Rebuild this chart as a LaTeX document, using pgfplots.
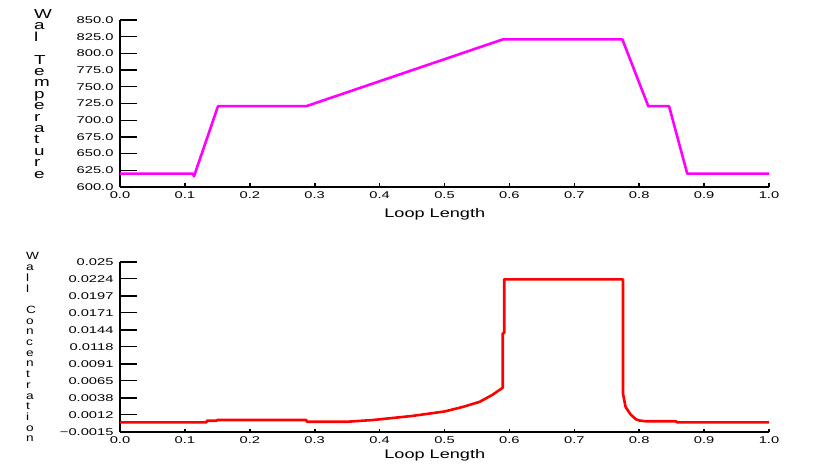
\documentclass[border=0pt]{standalone}
\usepackage{fontspec}
\setmainfont{Liberation Sans}
\newfontfamily\tickfont{Liberation Sans}[FakeStretch=1.5]
\newfontfamily\labfont{Liberation Sans}[FakeStretch=1.45]
\newfontfamily\labfontb{Liberation Sans}[FakeStretch=1.3]
\usepackage{pgfplots}
\pgfplotsset{compat=1.18}
\definecolor{mag}{RGB}{255,0,255}
\definecolor{rd}{RGB}{255,0,0}
\pgfplotsset{
  myaxis/.style={
    scale only axis, anchor=south west,
    width=649pt, xmin=0, xmax=1,
    axis x line*=bottom, axis y line*=left,
    x axis line style={line width=1.6pt, -},
    y axis line style={line width=2.6pt, -},
    tick align=inside,
    xtick={0,0.1,...,1.0},
    xticklabels={0.0,0.1,0.2,0.3,0.4,0.5,0.6,0.7,0.8,0.9,1.0},
    xtick style={/pgfplots/major tick length=3.5pt, line width=1.6pt, black},
    ytick style={/pgfplots/major tick length=17pt, line width=1.3pt, black},
    ticklabel style={font=\fontsize{9.8}{10}\selectfont\tickfont},
    xticklabel style={yshift=-1pt},
    yticklabel style={xshift=-3pt},
    scaled y ticks=false,
    xlabel={Loop Length},
    xlabel style={at={(axis description cs:0.485,0)}, anchor=center, font=\fontsize{12.5}{13}\selectfont\labfont},
    clip=false,
  }
}
\begin{document}
\begin{tikzpicture}
\path[use as bounding box] (0,0) rectangle (829pt,463pt);
\begin{axis}[myaxis, at={(120pt,276pt)}, height=167pt,
  ymin=600, ymax=850,
  ytick={600,625,650,675,700,725,750,775,800,825,850},
  yticklabels={600.0,625.0,650.0,675.0,700.0,725.0,750.0,775.0,800.0,825.0,850.0},
  xlabel style={yshift=-27pt}]
\addplot[mag, line width=2.6pt, line join=round] coordinates {
(0,620)(0.112,620)(0.114,616)(0.151,721)(0.287,721)(0.590,821)(0.774,821)(0.814,721)(0.846,721)(0.874,620)(1.0,620)};
\end{axis}
\begin{axis}[myaxis, at={(120pt,31pt)}, height=170pt,
  ymin=-0.0015, ymax=0.025,
  ytick={-0.0015,0.0012,0.0038,0.0065,0.0091,0.0118,0.0144,0.0171,0.0197,0.0224,0.025},
  yticklabels={−0.0015,0.0012,0.0038,0.0065,0.0091,0.0118,0.0144,0.0171,0.0197,0.0224,0.025},
  xlabel style={yshift=-23pt}]
\addplot[rd, line width=2.6pt, line join=round] coordinates {
(0,0)(0.133,0)(0.134,0.00026)(0.149,0.00026)(0.150,0.00037)(0.287,0.00037)(0.288,0.0001)(0.35,0.0001)(0.39,0.00037)(0.45,0.001)(0.5,0.0017)(0.528,0.0024)(0.554,0.0032)(0.574,0.0043)(0.5897,0.0054)(0.5897,0.0139)(0.592,0.0139)(0.592,0.0223)(0.775,0.0223)(0.775,0.0045)(0.779,0.0024)(0.787,0.0012)(0.795,0.00048)(0.8,0.0003)(0.81,0.00017)(0.857,0.00017)(0.858,0)(1.0,0)};
\end{axis}
\foreach \c [count=\i from 0] in {W,a,l,{},T,e,m,p,e,r,a,t,u,r,e}
  \node[anchor=base west, inner sep=0pt, font=\fontsize{13}{13}\selectfont\labfont] at (34pt,{463pt-18.5pt-\i*11.4pt}) {\c};
\foreach \c [count=\i from 0] in {W,a,l,l,{},C,o,n,c,e,n,t,r,a,t,i,o,n}
  \node[anchor=base west, inner sep=0pt, font=\fontsize{10.5}{11}\selectfont\labfontb] at (26pt,{463pt-260pt-\i*10.7pt}) {\c};
\end{tikzpicture}
\end{document}
